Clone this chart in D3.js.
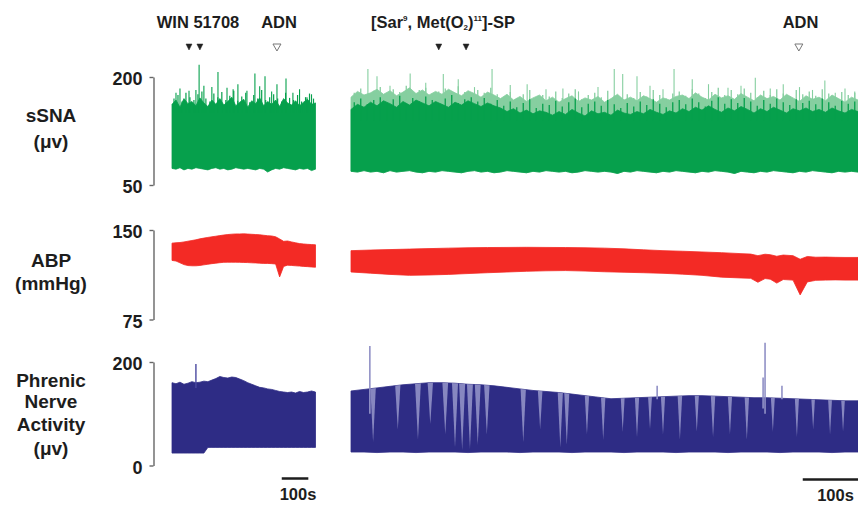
<!doctype html>
<html>
<head>
<meta charset="utf-8">
<script src="https://cdn.jsdelivr.net/npm/d3@7"></script>
<style>
  body { margin: 0; background: #fff; }
  svg text { font-family: "Liberation Sans", Arial, sans-serif; font-weight: bold; fill: #1d1d1d; }
</style>
</head>
<body>
<svg width="858" height="506"></svg>
<script>
// ---- data ----
// left segment: one sample every 15 s, 0..540 s ; right segment: see each series
var leftStep = 15, rightStep = 20, greenRightStep = 10;

var ssnaLeftTop = [162,168,158,170,163,166,160,171,164,159,168,162,170,161,166,172,160,165,169,158,167,163,171,160,166,162,168,159,170,164,161,167,160,165,169,162,164];
var ssnaLeftLow = [73,72,74,71,73,72,74,73,72,71,73,74,72,73,71,72,74,73,72,73,72,71,73,72,68,71,73,72,74,73,72,71,73,72,73,70,72];
// in-between peaks, one every 15 s starting at 7.5 s
var ssnaLeftJag = [170,175,166,178,172,168,176,180,170,166,177,172,179,168,174,181,167,173,178,165,175,170,182,168,172,176,170,166,178,171,168,175,166,172,177,170];
var ssnaLeftSpikeT = [15,30,64,90,102,120,150,173,207,230,248,282,312,330,350,375,395,429,455,480,508,525];
var ssnaLeftSpikeV = [178,184,181,182,217,188,186,207,185,183,190,181,205,187,201,180,190,198,178,183,172,176];

var ssnaRightTop = [155,162,158,165,160,167,163,158,166,161,168,164,160,166,162,158,165,161,167,163,159,164,160,
                    157,152,156,150,154,149,153,151,147,152,148,155,150,146,153,149,151,147,154,150,148,152,149,155,151,148,153,150,
                    156,152,158,154,160,155,151,157,153,159,155,150,156,152,158,154,150,156,153,157,152,155,151,157,153,150,155,152];
var ssnaRightFringe = [172,180,175,178,183,176,181,174,179,185,177,182,175,180,176,183,178,174,181,177,172,179,175,
                       170,176,168,173,166,171,175,167,172,165,170,174,166,171,168,173,165,170,176,168,172,167,174,170,165,171,168,173,
                       175,170,178,172,168,176,171,174,169,177,172,167,175,170,173,168,176,171,166,174,169,172,167,175,170,165,172,168];
var ssnaRightLow = [69,68,70,68,69,67,70,68,69,70,68,67,69,68,70,69,68,67,69,70,68,69,67,
                    68,70,69,68,67,69,68,70,69,68,69,67,68,70,69,68,69,68,66,69,68,70,69,68,67,69,68,70,
                    69,68,67,69,68,70,69,68,66,69,68,67,69,68,70,69,68,67,69,68,70,69,68,67,69,68,69,68];
// in-between peaks, one every 10 s starting at 5 s
var ssnaRightJag = [165,170,162,168,172,164,169,174,163,171,166,173,168,162,170,175,164,169,172,166,171,163,168,
                    160,166,158,164,169,157,163,161,167,159,165,170,158,163,166,160,168,162,157,164,159,166,161,169,163,158,165,
                    168,162,170,165,159,167,172,163,169,164,171,166,160,168,163,170,165,161,169,164,167,162,170,165,160,167,163,166];
var ssnaRightFringeJag = [178,184,175,181,186,176,183,179,188,174,182,185,177,180,184,175,187,179,173,182,178,185,176,
                          172,179,170,176,182,168,175,173,180,171,177,183,169,175,178,172,181,174,168,176,171,179,173,182,175,170,177,
                          180,174,183,177,171,179,185,175,182,176,184,178,172,181,175,183,177,173,182,176,180,174,183,177,172,179,175,178];
var ssnaRightSpikeT = [26,40,60,91,115,142,165,190,217,245,271,300,326,350,380,405,418,440,460,480,497,525,550,580,600,622,645,665,690,710,729,745,760,775];
var ssnaRightSpikeV = [211,201,188,205,192,204,197,186,211,189,190,183,184,180,186,211,204,201,188,183,211,197,190,185,188,199,184,190,186,182,195,178,184,180];

var abpLeftTop = [139,139.3,139.5,140,140.6,141.2,141.8,142.6,143.2,143.8,144.3,144.8,145.3,145.8,146.2,146.5,146.7,146.7,146.8,146.6,146.4,146.2,146,145.6,145.2,145,144.3,142.5,140.5,140.8,140,139.3,138.6,138.3,138,137.8,137.6];
var abpLeftLow = [124.5,124,122.5,121,120.2,120,120,120.3,120.8,121.3,121.8,122.2,122.6,122.9,123,123,123,122.9,122.8,122.7,122.5,122.4,122.2,122,122,121.8,121.5,110.7,119.5,120.5,120.3,120,119.8,119.5,119.3,119,118.8];

var abpRightT = [0,30,60,90,120,150,180,210,240,270,300,330,360,390,420,450,480,510,540,570,600,615,626,637,645,655,665,680,691,702,715,730,745,760,780];
var abpRightTop = [132.7,133.2,133.6,134,134.4,134.8,135.1,135.3,135.4,135.5,135.4,135.3,135.1,134.8,134.2,133.4,132.7,132.2,131.6,131,130.2,129.8,128.5,129.7,129.3,128,129,128.5,125.5,127.8,127.2,127.3,127.1,127,127];
var abpRightLow = [114.8,113.8,112.8,112,112.3,112.8,113.5,114.2,114.8,115.4,115.8,116,115.6,115,114.6,114.2,113.7,113,112,110.5,109.8,109.5,106.2,109.3,108.8,105.5,108.5,108,95.6,106.5,107.8,108,108.2,108,108];

var pnaLeftTop = [160,158,161,157,159,162,160,161,163,162,165,168,172,170,169,171,170,167,164,160,157,154,151,150,148,147,145,143,142,141,142,140,143,141,142,144,142];
var pnaLeftLow = [24,24,24,24,24,24,24,24,24,35,35,35,35,35,35,35,35,35,35,35,35,35,35,35,35,35,35,35,35,35,35,35,35,35,35,35,35];
var pnaLeftSpikeT = [90];
var pnaLeftSpikeV = [196];

var pnaRightTop = [144,147,150,153,156,158,160,160,159,157,156,154,151,148,145,143,141,138,135,132,129,130,131,132,133,134,135,135,134,133,132,131,131,130,129,128,127,126,125,125];
var pnaRightLow = [26,26,25,26,26,25,26,26,26,25,26,26,26,25,26,26,26,25,26,26,26,25,26,26,26,25,26,26,26,25,26,26,26,25,26,26,26,25,26,26];
var pnaRightSpikeT = [29,471,634,637,663];
var pnaRightSpikeV = [231,154,170,237,154];
var pnaRightSpikeBase = [100,128,110,100,128];
var pnaGapT = [34,72,103,122,145,160,171,183,195,209,265,291,322,332,363,388,418,440,460,480,506,532,557,583,609,649,686,711,737,757];
var pnaGapV = [45,70,50,80,60,35,30,32,40,60,45,70,35,40,60,50,65,55,70,60,50,65,55,60,50,65,55,70,60,65];

// events (s) and scale bars
var leftDrug = [64, 105], leftAdn = [395];
var rightDrug = [135, 177], rightAdn = [689];
var leftBar = [413, 513], rightBar = [695, 795];

// ---- scales ----
var svg = d3.select("svg");
var xL = d3.scaleLinear().domain([0, 540]).range([172, 315.5]);
var xR = d3.scaleLinear().domain([0, 780]).range([351, 858]);
var ySsna = d3.scaleLinear().domain([50, 200]).range([185, 77]);
var yAbp = d3.scaleLinear().domain([75, 150]).range([319.5, 230]);
var yPna = d3.scaleLinear().domain([0, 200]).range([465.5, 362]);

var green = "#06a04c", greenLight = "#86cfa0", red = "#f32a25", blue = "#2e2c85", lav = "#9191c6";

function times(n, dt, off) { return d3.range(n).map(function(i) { return (off || 0) + i * dt; }); }

function band(x, y, ts, hi, lo, color) {
  var pts = ts.map(function(t, i) { return [t, hi[i], lo[i]]; });
  var area = d3.area()
      .x(function(d) { return x(d[0]); })
      .y0(function(d) { return y(d[2]); })
      .y1(function(d) { return y(d[1]); });
  svg.append("path").attr("d", area(pts)).attr("fill", color).attr("stroke", color).attr("stroke-width", 0.8);
  return area(pts);
}

function spikes(x, y, ts, vs, base, color, w) {
  svg.append("g").selectAll("line").data(ts).enter().append("line")
     .attr("x1", function(d) { return x(d); })
     .attr("x2", function(d) { return x(d); })
     .attr("y1", function(d, i) { return y(Array.isArray(base) ? base[i] : base); })
     .attr("y2", function(d, i) { return y(vs[i]); })
     .attr("stroke", color).attr("stroke-width", w);
}

function yAxis(y, vals) {
  var g = svg.append("g").attr("transform", "translate(153.5,0)")
     .call(d3.axisLeft(y).tickValues(vals).tickSize(4).tickSizeOuter(0).tickPadding(7));
  g.select(".domain").attr("stroke", "#666").attr("stroke-width", 1.4);
  g.selectAll(".tick line").attr("stroke", "#666").attr("stroke-width", 1.4);
  g.selectAll(".tick text").attr("font-size", 18).attr("dy", "0.42em").attr("fill", "#1d1d1d");
}

// ---- sSNA ----
band(xL, ySsna, times(ssnaLeftTop.length, leftStep), ssnaLeftTop, ssnaLeftLow, green);
spikes(xL, ySsna, times(ssnaLeftJag.length, leftStep, 7.5), ssnaLeftJag, 150, green, 1.2);
spikes(xL, ySsna, ssnaLeftSpikeT, ssnaLeftSpikeV, 150, green, 1.1);
var tR = times(ssnaRightTop.length, greenRightStep);
band(xR, ySsna, tR, ssnaRightFringe, ssnaRightLow, greenLight);
spikes(xR, ySsna, times(ssnaRightFringeJag.length, greenRightStep, 5), ssnaRightFringeJag, 150, greenLight, 1.3);
spikes(xR, ySsna, ssnaRightSpikeT, ssnaRightSpikeV, 150, greenLight, 1.1);
band(xR, ySsna, tR, ssnaRightTop, ssnaRightLow, green);
spikes(xR, ySsna, times(ssnaRightJag.length, greenRightStep, 5), ssnaRightJag, 140, green, 1.3);

// ---- ABP ----
band(xL, yAbp, times(abpLeftTop.length, leftStep), abpLeftTop, abpLeftLow, red);
band(xR, yAbp, abpRightT, abpRightTop, abpRightLow, red);

// ---- phrenic ----
band(xL, yPna, times(pnaLeftTop.length, leftStep), pnaLeftTop, pnaLeftLow, blue);
spikes(xL, yPna, pnaLeftSpikeT, pnaLeftSpikeV, 150, "#4a49a0", 1.4);
var pnaPath = band(xR, yPna, times(pnaRightTop.length, rightStep), pnaRightTop, pnaRightLow, blue);
svg.append("clipPath").attr("id", "pnaClip").append("path").attr("d", pnaPath);
svg.append("g").attr("clip-path", "url(#pnaClip)")
   .selectAll("path").data(pnaGapT).enter().append("path")
   .attr("d", function(t, i) {
     var cx = xR(t);
     return "M" + (cx - 4) + "," + yPna(200) + "L" + (cx + 4) + "," + yPna(200) + "L" + cx + "," + yPna(pnaGapV[i]) + "Z";
   })
   .attr("fill", lav).attr("opacity", 0.9);
spikes(xR, yPna, pnaRightSpikeT, pnaRightSpikeV, pnaRightSpikeBase, lav, 1.6);

// ---- axes ----
yAxis(ySsna, [50, 200]);
yAxis(yAbp, [75, 150]);
yAxis(yPna, [0, 200]);

// ---- row labels ----
function label(lines, ys) {
  lines.forEach(function(s, i) {
    svg.append("text").attr("x", 51).attr("y", ys[i]).attr("text-anchor", "middle").attr("font-size", 19).text(s);
  });
}
label(["sSNA", "(\u03bcv)"], [122, 148]);
label(["ABP", "(mmHg)"], [267, 290]);
label(["Phrenic", "Nerve", "Activity", "(\u03bcv)"], [387, 408, 431, 455]);

// ---- event markers ----
function marks(x, ts, open) {
  svg.append("g").selectAll("path").data(ts).enter().append("path")
     .attr("d", function(t) {
       var cx = x(t), h = open ? 7 : 6, w = open ? 4 : 3;
       return "M" + (cx - w) + ",44L" + (cx + w) + ",44L" + cx + "," + (44 + h) + "Z";
     })
     .attr("fill", open ? "#fff" : "#222")
     .attr("stroke", open ? "#777" : "#222")
     .attr("stroke-width", open ? 1 : 0.5);
}
marks(xL, leftDrug, false);
marks(xL, leftAdn, true);
marks(xR, rightDrug, false);
marks(xR, rightAdn, true);

svg.append("text").attr("x", 198).attr("y", 28).attr("text-anchor", "middle").attr("font-size", 16.5).text("WIN 51708");
svg.append("text").attr("x", 279).attr("y", 28).attr("text-anchor", "middle").attr("font-size", 16.5).text("ADN");
svg.append("text").attr("x", 800.5).attr("y", 28).attr("text-anchor", "middle").attr("font-size", 16.5).text("ADN");

var sp = svg.append("text").attr("x", 371).attr("y", 28).attr("font-size", 16.5);
sp.append("tspan").text("[Sar");
sp.append("tspan").attr("font-size", 8).attr("dy", -7).text("9");
sp.append("tspan").attr("dy", 7).text(", Met(O");
sp.append("tspan").attr("font-size", 8).attr("dy", 2).text("2");
sp.append("tspan").attr("dy", -2).text(")");
sp.append("tspan").attr("font-size", 8).attr("dy", -7).text("11");
sp.append("tspan").attr("dy", 7).text("]-SP");

// ---- scale bars ----
function scaleBar(x, ts, y, lx) {
  svg.append("line").attr("x1", x(ts[0])).attr("x2", x(ts[1])).attr("y1", y).attr("y2", y)
     .attr("stroke", "#1d1d1d").attr("stroke-width", 2.5);
  svg.append("text").attr("x", lx).attr("y", y + 21).attr("text-anchor", "middle").attr("font-size", 16.5).text("100s");
}
scaleBar(xL, leftBar, 478.5, 298);
scaleBar(xR, rightBar, 479.5, 835.5);
</script>
</body>
</html>
